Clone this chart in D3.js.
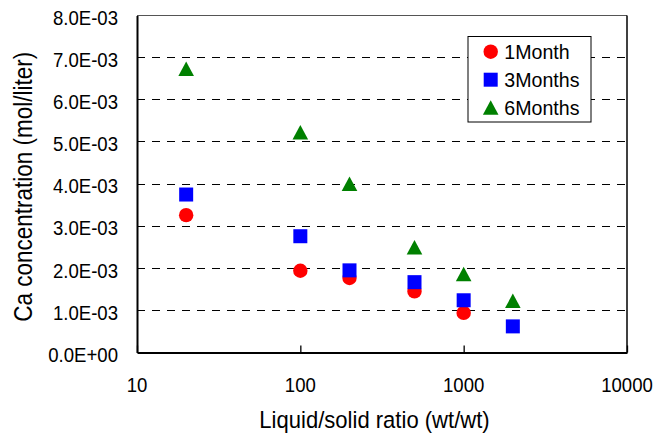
<!DOCTYPE html>
<html>
<head>
<meta charset="utf-8">
<script src="https://cdn.jsdelivr.net/npm/d3@7"></script>
<style>
  html, body { margin: 0; padding: 0; background: #fff; }
  svg { display: block; font-family: "Liberation Sans", Arial, sans-serif; }
</style>
</head>
<body>
<svg id="chart" width="669" height="433"></svg>
<script>
// Liquid/solid ratio (wt/wt) for each sample
const ratios1 = [20, 100, 200, 500, 1000];
const ratios3 = [20, 100, 200, 500, 1000, 2000];
const ratios6 = [20, 100, 200, 500, 1000, 2000];

// Ca concentration (mol/liter)
const month1 = [3.26e-3, 1.94e-3, 1.77e-3, 1.45e-3, 0.94e-3];
const month3 = [3.75e-3, 2.76e-3, 1.95e-3, 1.67e-3, 1.24e-3, 0.62e-3];
const month6 = [6.73e-3, 5.22e-3, 4.00e-3, 2.49e-3, 1.86e-3, 1.22e-3];

const seriesNames = ["1Month", "3Months", "6Months"];
const xTicks = [10, 100, 1000, 10000];
const yTicks = [0, 1e-3, 2e-3, 3e-3, 4e-3, 5e-3, 6e-3, 7e-3, 8e-3];
const xTitle = "Liquid/solid ratio (wt/wt)";
const yTitle = "Ca concentration (mol/liter)";

const W = 669, H = 433;
const margin = { left: 137, right: 42, top: 15.5, bottom: 80.5 };
const svg = d3.select("#chart");

const x = d3.scaleLog().domain([10, 10000]).range([margin.left, W - margin.right]);
const y = d3.scaleLinear().domain([0, 8e-3]).range([H - margin.bottom, margin.top]);

const series = [
  { name: seriesNames[0], xs: ratios1, ys: month1, color: "#ff0000", shape: "circle" },
  { name: seriesNames[1], xs: ratios3, ys: month3, color: "#0000ff", shape: "square" },
  { name: seriesNames[2], xs: ratios6, ys: month6, color: "#008000", shape: "triangle" }
];

// marker outlines, centred on (0,0)
function markerPath(shape) {
  if (shape === "circle") return d3.symbol(d3.symbolCircle, Math.PI * 7.2 * 7.2)();
  if (shape === "square") return "M-7,-7H7V7H-7Z";
  return "M0,-7.5L7.8,7L-7.8,7Z";
}

// compressed sans text used by the axis labels
function label(g, txt, tx, ty, opts) {
  const o = Object.assign({ size: 21, sx: 0.885, anchor: "middle", rot: 0 }, opts);
  return g.append("text")
    .attr("transform", `translate(${tx},${ty}) rotate(${o.rot}) scale(${o.sx},1)`)
    .attr("text-anchor", o.anchor)
    .attr("font-size", o.size)
    .attr("fill", "#000")
    .text(txt);
}

const [x0, x1] = x.range();
const [yb, yt] = y.range();

// dashed horizontal gridlines
svg.append("g").selectAll("line")
  .data(yTicks.slice(1))
  .join("line")
  .attr("x1", x0).attr("x2", x1)
  .attr("y1", d => y(d)).attr("y2", d => y(d))
  .attr("stroke", "#000").attr("stroke-width", 1)
  .attr("stroke-dasharray", "8,7")
  .attr("shape-rendering", "crispEdges");

// plot frame
svg.append("line").attr("x1", x0).attr("x2", x1).attr("y1", yt).attr("y2", yt)
  .attr("stroke", "#555").attr("stroke-width", 1);
svg.append("line").attr("x1", x1).attr("x2", x1).attr("y1", yt).attr("y2", yb)
  .attr("stroke", "#000").attr("stroke-width", 1.5);

// axes
const xAxis = svg.append("g").attr("transform", `translate(0,${yb})`)
  .call(d3.axisBottom(x).tickValues(xTicks).tickSizeInner(-7).tickSizeOuter(0).tickFormat(""));
xAxis.select(".domain").attr("stroke", "#000").attr("stroke-width", 2);
xAxis.selectAll(".tick line").attr("stroke", "#000").attr("stroke-width", 1.3);

const yAxis = svg.append("g").attr("transform", `translate(${x0},0)`)
  .call(d3.axisLeft(y).tickValues(yTicks).tickSize(0).tickFormat(""));
yAxis.select(".domain").attr("stroke", "#000").attr("stroke-width", 2);

// tick labels
const fmtY = d => {
  const s = d3.format(".1e")(d);            // e.g. 3.0e-3
  const [m, e] = s.split("e");
  const n = +e;
  return m + "E" + (n < 0 ? "-" : "+") + String(Math.abs(n)).padStart(2, "0");
};
const lg = svg.append("g");
yTicks.forEach(t => label(lg, fmtY(t), x0 - 19, y(t) + 9.3, { anchor: "end" }));
xTicks.forEach(t => label(lg, String(t), x(t), yb + 39.2));

// axis titles
label(lg, xTitle, (x0 + x1) / 2 - 7.5, 427.5, { size: 24.5, sx: 0.9 });
label(lg, yTitle, 31.5, 186.7, { size: 25, sx: 0.9, rot: -90 });

// data markers
series.forEach(s => {
  svg.append("g").selectAll("path")
    .data(s.xs.map((v, i) => [v, s.ys[i]]))
    .join("path")
    .attr("transform", d => `translate(${x(d[0])},${y(d[1])})`)
    .attr("d", markerPath(s.shape))
    .attr("fill", s.color);
});

// legend
const leg = svg.append("g").attr("transform", "translate(468,36.5)");
leg.append("rect").attr("width", 123).attr("height", 85.5)
  .attr("fill", "#fff").attr("stroke", "#000").attr("stroke-width", 1);
series.forEach((s, i) => {
  const row = leg.append("g").attr("transform", `translate(22.7,${15.2 + i * 28})`);
  row.append("path").attr("d", markerPath(s.shape)).attr("fill", s.color);
  row.append("text").attr("x", 13.6).attr("y", 7.3)
    .attr("font-size", 19.6).attr("fill", "#000").text(s.name);
});
</script>
</body>
</html>
